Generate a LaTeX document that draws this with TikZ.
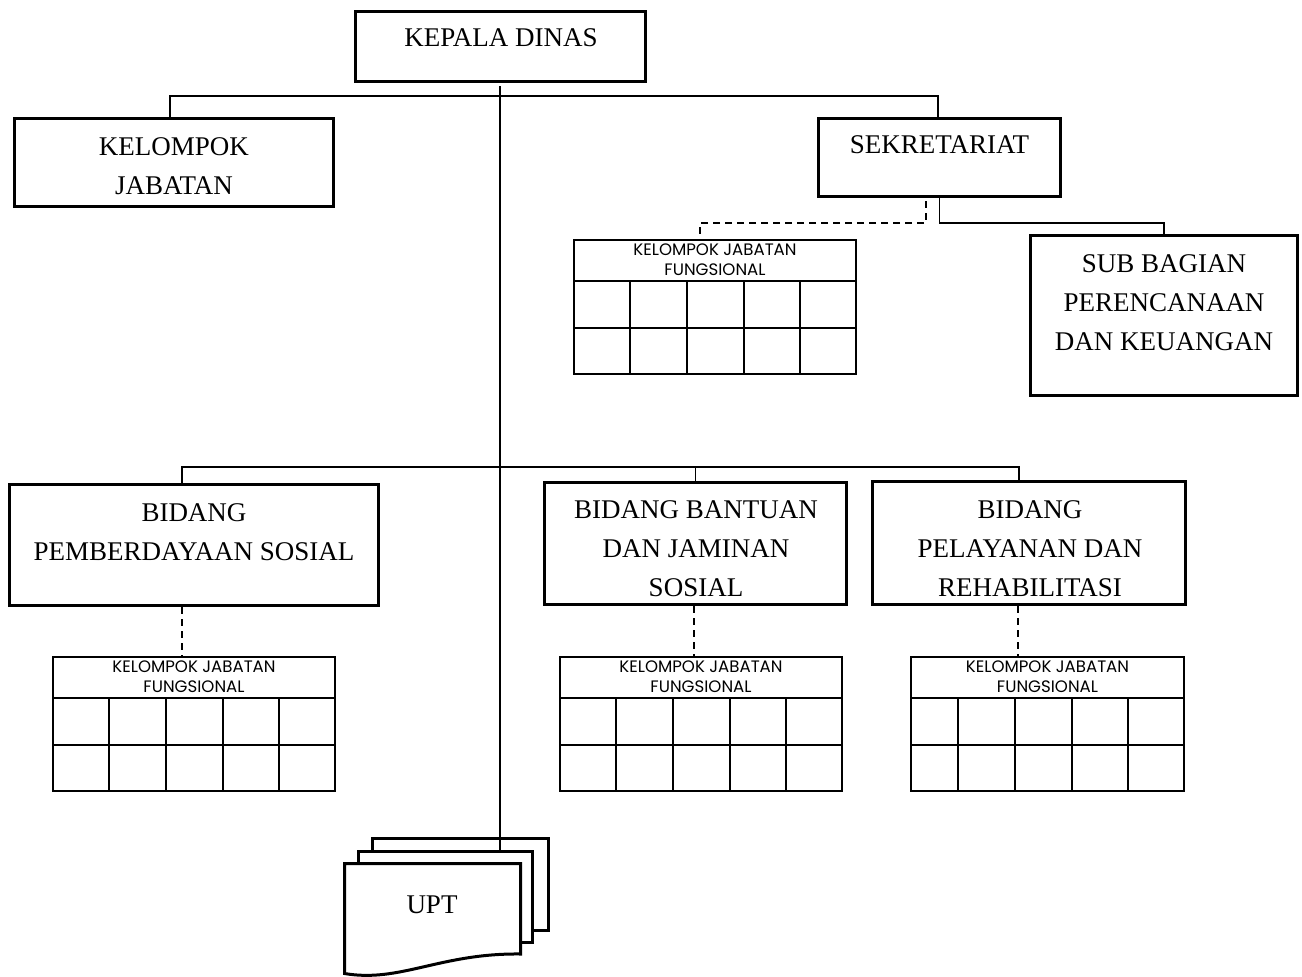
\documentclass[tikz,border=0pt]{standalone}
\usepackage{fontspec}
\setmainfont{Liberation Serif}
\newfontfamily\gridfont{Poppins}
\usetikzlibrary{calc}
\tikzset{
  box/.style={draw, line width=3pt, rectangle, fill=white, inner sep=0pt},
  bigtext/.style={font=\fontsize{27}{39}\selectfont, align=center, inner sep=0pt},
  gridbox/.style={draw, line width=2.2pt, rectangle, inner sep=0pt},
  gridline/.style={line width=2.2pt},
  gridtext/.style={font=\gridfont\fontsize{16.6}{20}\selectfont, align=center, inner sep=0pt},
  conn/.style={line width=1.7pt},
  dconn/.style={line width=1.8pt, dash pattern=on 7pt off 5pt},
  page/.style={draw, line width=3pt, fill=white, line join=miter},
}
\newcommand{\kjgrid}[5]{% name, x0, y0, x1, column xs
  \node[gridbox, minimum width={#4-#2-2.2}, minimum height={133.8}] (#1) at ({(#2+#4)/2},{#3+68}) {};
  \draw[gridline] (#2,{#3+42}) -- (#4,{#3+42});
  \draw[gridline] (#2,{#3+89}) -- (#4,{#3+89});
  \foreach \cx in {#5} {\draw[gridline] (\cx,{#3+42}) -- (\cx,{#3+136});}
  \node[gridtext] (#1-t) at ({(#2+#4)/2},{#3+21}) {KELOMPOK JABATAN\\FUNGSIONAL};
}
\begin{document}
\begin{tikzpicture}[x=1pt,y=-1pt]
\useasboundingbox (0,0) rectangle (1302,977);
\fill[white] (0,0) rectangle (1302,977);

% main boxes
\node[box, minimum width=290, minimum height=70] (kd) at (500,46.5) {};
\node[bigtext] (kd-t) at (501,38) {KEPALA DINAS};

\node[box, minimum width=319, minimum height=88] (kj) at (174,162.5) {};
\node[bigtext] (kj-t) at (174,166) {KELOMPOK\\JABATAN};

\node[box, minimum width=242, minimum height=78] (sek) at (939.5,157.5) {};
\node[bigtext] (sek-t) at (939.5,144.5) {SEKRETARIAT};

\node[box, minimum width=267, minimum height=160] (sub) at (1164,315.5) {};
\node[bigtext] (sub-t) at (1164,302.5) {SUB BAGIAN\\PERENCANAAN\\DAN KEUANGAN};

\node[box, minimum width=369, minimum height=121] (bps) at (194,545) {};
\node[bigtext] (bps-t) at (194,532.5) {BIDANG\\PEMBERDAYAAN SOSIAL};

\node[box, minimum width=302, minimum height=122] (bbj) at (695.5,543.5) {};
\node[bigtext] (bbj-t) at (696,548.5) {BIDANG BANTUAN\\DAN JAMINAN\\SOSIAL};

\node[box, minimum width=313, minimum height=123] (bpr) at (1029,543) {};
\node[bigtext] (bpr-t) at (1030,548.5) {BIDANG\\PELAYANAN DAN\\REHABILITASI};

% functional groups
\kjgrid{g1}{573}{239}{857}{630,687,744,800}
\kjgrid{g2}{52}{656}{336}{109,166,223,279}
\kjgrid{g3}{559}{656}{843}{616,673,730,786}
\kjgrid{g4}{910}{656}{1185}{958,1015,1072,1128}

% UPT stacked documents
\draw[page] (372.5,838.5) rectangle (548.5,930.5);
\draw[page] (358.5,851.5) rectangle (532.5,942.5);
\draw[page] (344.5,973.5) -- (344.5,863.5) -- (520.5,863.5) -- (520.5,954)
   .. controls (440,953) and (400,983) .. (344.5,973.5) -- cycle;
\node[bigtext] (upt) at (432,905) {UPT};
\coordinate (uptend) at (500,852);

% connectors
\draw[conn, shorten <=3pt] (kd.south) -- (uptend);
\draw[conn] ([xshift=-4pt]kj.north) -- ++(0,-21) -| ([xshift=-1.5pt]sek.north);
\draw[conn] (sek.south) -- ++(0,25) -| (sub.north);
\draw[dconn] ([xshift=-13.5pt,yshift=-3pt]sek.south) -- ++(0,22) -| ([xshift=-15pt]g1.north);

\draw[conn] ([xshift=-12pt]bps.north) -- ++(0,-16) -| ([xshift=-10pt]bpr.north);
\draw[conn] (bbj.north) -- ++(0,-14);

\draw[dconn] ([xshift=-12pt]bps.south) -- ([xshift=-12pt]bps.south |- g2.north);
\draw[dconn] ([xshift=-1.5pt]bbj.south) -- ([xshift=-1.5pt]bbj.south |- g3.north);
\draw[dconn] ([xshift=-11pt]bpr.south) -- ([xshift=-11pt]bpr.south |- g4.north);
\end{tikzpicture}
\end{document}
